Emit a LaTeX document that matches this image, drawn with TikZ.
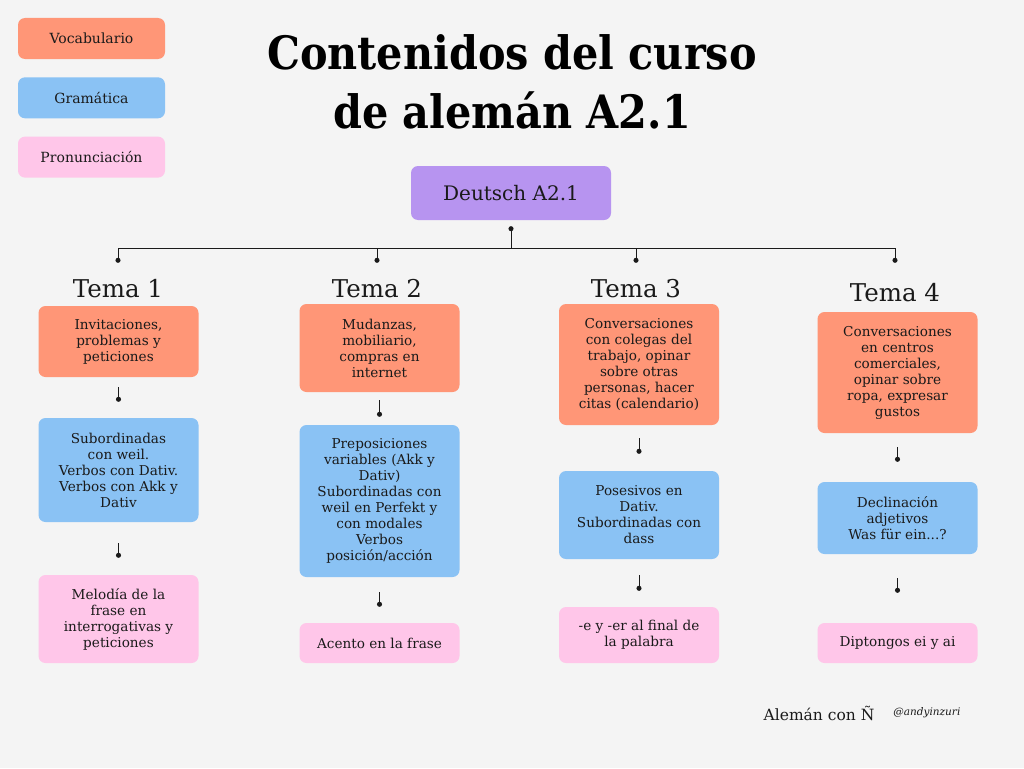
\documentclass[tikz,border=0pt]{standalone}
\usepackage{fontspec}
\setmainfont{DejaVu Serif}
\newfontfamily\titulofont{DejaVu Serif}[FakeStretch=0.9]
\usetikzlibrary{arrows.meta,positioning}

\definecolor{vocab}{HTML}{FF9677}
\definecolor{gram}{HTML}{8AC2F4}
\definecolor{pron}{HTML}{FFC6E9}
\definecolor{lila}{HTML}{B794F0}
\definecolor{fondo}{HTML}{F4F4F4}
\definecolor{tinta}{HTML}{1A1A1A}

\tikzset{
	caja/.style={rounded corners=7pt, minimum width=160pt, align=center, inner sep=2pt,
		text=tinta, font=\fontsize{13.6}{16}\selectfont},
	voc/.style={caja, fill=vocab},
	gra/.style={caja, fill=gram},
	pro/.style={caja, fill=pron},
	leyenda/.style={minimum width=147pt, minimum height=41pt, font=\fontsize{14}{15}\selectfont},
	tema/.style={inner sep=0pt, text height=18pt, text depth=5pt, anchor=base,
		text=tinta, font=\fontsize{24.5}{27}\selectfont},
	link/.style={draw=tinta, line width=1pt, -{Circle[length=5pt]}},
}

\begin{document}
\begin{tikzpicture}[x=1pt,y=-1pt]
	\fill[fondo] (0,0) rectangle (1024,768);
	% leyenda
	\foreach \j/\nombre/\estilo in {0/Vocabulario/voc, 1/Gramática/gra, 2/Pronunciación/pro}
	{
		\node[\estilo, leyenda] (ley\j) at (91.5,38.5+59.3*\j) {\nombre};
	}
	% titulo
	\node[align=center, text=black, font=\titulofont\bfseries\fontsize{46}{59}\selectfont] (titulo) at (512,82)
		{Contenidos del curso\\de alemán A2.1};
	% raiz
	\node[caja, fill=lila, minimum width=200pt, minimum height=54pt, font=\fontsize{20}{22}\selectfont]
		(raiz) at (511,193) {Deutsch A2.1};
	\coordinate (hub) at (511,248);
	\draw[draw=tinta, line width=1pt, {Circle[length=5pt]}-, shorten <=6pt] (raiz) -- (hub);
	% temas
	\node[tema] (t1) at (118,297) {Tema 1};
	\node[tema] (t2) at (377,297) {Tema 2};
	\node[tema] (t3) at (636,297) {Tema 3};
	\node[tema] (t4) at (895,301) {Tema 4};
	\foreach \t/\e in {1/16,2/16,3/16,4/20}
	{
		\draw[link, shorten >=\e pt] (hub) -| (t\t.north);
	}
	% tema 1
	\node[voc, minimum height=71pt] (o1) at (118.5,341.5) {Invitaciones,\\problemas y\\peticiones};
	\node[gra, minimum height=104pt] (b1) at (118.5,470) {Subordinadas\\con weil.\\Verbos con Dativ.\\Verbos con Akk y\\Dativ};
	\node[pro, minimum height=88pt] (p1) at (118.5,619) {Melodía de la\\frase en\\interrogativas y\\peticiones};
	% tema 2
	\node[voc, minimum height=88pt] (o2) at (379.5,348) {Mudanzas,\\mobiliario,\\compras en\\internet};
	\node[gra, minimum height=152pt] (b2) at (379.5,501) {Preposiciones\\variables (Akk y\\Dativ)\\Subordinadas con\\weil en Perfekt y\\con modales\\Verbos\\posición/acción};
	\node[pro, minimum height=40pt] (p2) at (379.5,643) {Acento en la frase};
	% tema 3
	\node[voc, minimum height=121pt] (o3) at (639,364.5) {Conversaciones\\con colegas del\\trabajo, opinar\\sobre otras\\personas, hacer\\citas (calendario)};
	\node[gra, minimum height=88pt] (b3) at (639,515) {Posesivos en\\Dativ.\\Subordinadas con\\dass};
	\node[pro, minimum height=56pt] (p3) at (639,635) {-e y -er al final de\\la palabra};
	% tema 4
	\node[voc, minimum height=121pt] (o4) at (897.5,372.5) {Conversaciones\\en centros\\comerciales,\\opinar sobre\\ropa, expresar\\gustos};
	\node[gra, minimum height=72pt] (b4) at (897.5,518) {Declinación\\adjetivos\\Was für ein...?};
	\node[pro, minimum height=40pt] (p4) at (897.5,643) {Diptongos ei y ai};
	% flechas
	\foreach \a/\b/\s/\e in {o1/b1/10/16, b1/p1/21/17, o2/b2/8/8, b2/p2/15/16,
		o3/b3/13/17, b3/p3/16/16, o4/b4/14/20, b4/p4/24/30}
	{
		\draw[link, shorten <=\s pt, shorten >=\e pt] (\a) -- (\b);
	}
	% firma
	\node[text=tinta, font=\fontsize{15.5}{17}\selectfont] (firma) at (819,713) {Alemán con Ñ};
	\node[right=12pt of firma, text=tinta, font=\itshape\fontsize{10.5}{12}\selectfont] (usuario) {@andyinzuri};
\end{tikzpicture}
\end{document}
